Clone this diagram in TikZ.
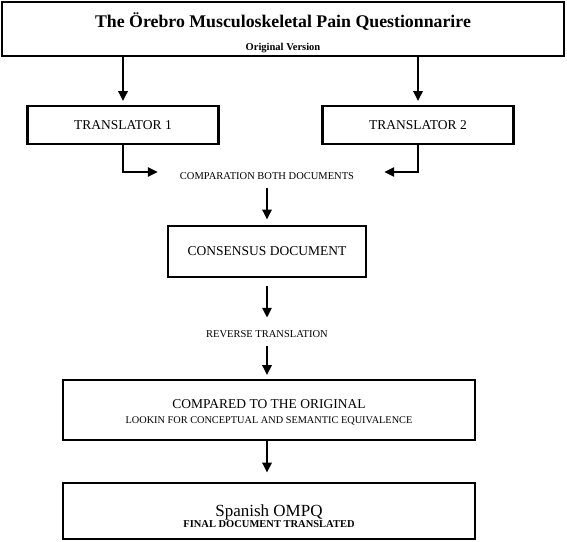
\documentclass[tikz,border=0pt]{standalone}
\usepackage{fontspec}
\setmainfont{Liberation Serif}
\usepackage{tikz}
\usetikzlibrary{shapes}
\usetikzlibrary{arrows.meta}
\usetikzlibrary{positioning}
\tikzstyle{frame} = [rectangle, draw=black, line width=2.6pt, text centered, inner sep=0pt]
\tikzstyle{source} = [frame, minimum width=562pt, minimum height=54pt]
\tikzstyle{translator} = [frame, minimum width=191pt, minimum height=38pt, font=\fontsize{13.5}{15}\selectfont]
\tikzstyle{consensus} = [frame, minimum width=198pt, minimum height=51pt, font=\fontsize{13.5}{15}\selectfont]
\tikzstyle{result} = [frame, minimum width=412pt]
\tikzstyle{note} = [rectangle, inner xsep=22pt, inner ysep=8.5pt, text centered, font=\fontsize{10.5}{12}\selectfont]
\tikzstyle{arrow} = [line width=2.8pt, ->, >={Triangle[length=10pt, width=9pt]}, shorten >=3.5pt]

\begin{document}
\begin{tikzpicture}[x=1pt, y=1pt, node distance=80pt]
    \useasboundingbox (0,0) rectangle (567,-541);

    \node(Original)[source] at (283,-29){\parbox{540pt}{\centering \rule{0pt}{22pt}\fontsize{17.8}{20}\selectfont 
\textbf{The Örebro Musculoskeletal Pain Questionnarire}\\ \fontsize{10.5}{23.3}\selectfont \textbf{Original Version}}};

    \node(Trans1)[translator, below of=Original, xshift=-160pt, yshift=-16pt]{TRANSLATOR 1};

    \node(Trans2)[translator, below of=Original, xshift=135pt, yshift=-16pt]{TRANSLATOR 2};

    \node(Compare)[note, below of=Original, xshift=-16pt, yshift=-67pt]{COMPARATION BOTH DOCUMENTS};

    \node(Consensus)[consensus, below of=Compare, yshift=4.5pt]{CONSENSUS DOCUMENT};

    \node(Reverse)[note, below of=Consensus, yshift=-2.5pt]{REVERSE TRANSLATION};

    \node(Compared)[result, minimum height=60pt, below of=Reverse, xshift=2pt, yshift=4pt]{\parbox{400pt}{\centering 
\rule{0pt}{13.6pt}\fontsize{13.5}{15}\selectfont COMPARED TO THE ORIGINAL\\ \fontsize{10.3}{14.3}\selectfont LOOKIN FOR 
CONCEPTUAL AND SEMANTIC EQUIVALENCE}};

    \node(Spanish)[result, minimum height=56pt, below of=Compared, yshift=-21pt]{\parbox{400pt}{\centering 
\rule{0pt}{22pt}\fontsize{17}{19}\selectfont Spanish OMPQ\\ \fontsize{10.5}{11.8}\selectfont \textbf{FINAL DOCUMENT 
TRANSLATED}}};

    \path (Original.south -| Trans1.north) edge[arrow] (Trans1.north);
    \path (Original.south -| Trans2.north) edge[arrow] (Trans2.north);
    \draw[arrow, shorten >=0pt] (Trans1.south) |- ([yshift=4pt]Compare.west);
    \draw[arrow, shorten >=0pt] (Trans2.south) |- ([xshift=8pt, yshift=4pt]Compare.east);
    \path (Compare.south) edge[arrow, shorten >=5pt] (Consensus.north);
    \path (Consensus.south) edge[arrow, shorten <=8pt, shorten >=4pt] (Reverse.north);
    \path (Reverse.south) edge[arrow] (Reverse.south |- Compared.north);
    \path (Compared.south -| Reverse.south) edge[arrow, shorten >=9pt] (Reverse.south |- Spanish.north);

    \end{tikzpicture}
\end{document}
